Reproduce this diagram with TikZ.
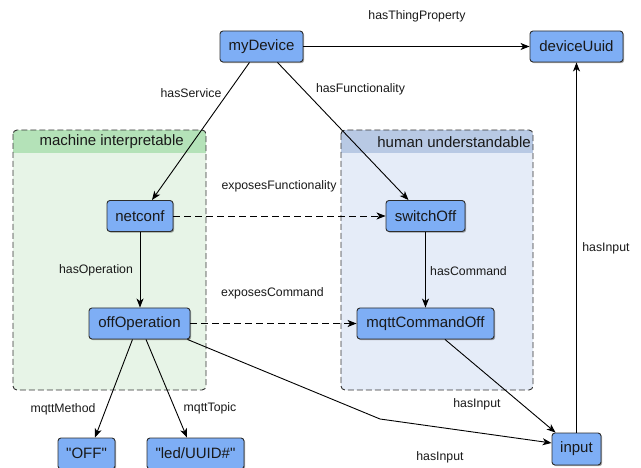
\documentclass[tikz,border=0pt]{standalone}
\usepackage{fontspec}
\setmainfont{Liberation Sans}
\newfontfamily\plainsans{Liberation Sans}
\usetikzlibrary{arrows.meta,shadows}
\definecolor{nodefill}{RGB}{126,174,245}
\definecolor{nodeborder}{RGB}{45,45,45}
\definecolor{greenhead}{RGB}{180,226,184}
\definecolor{greenbody}{RGB}{231,244,231}
\definecolor{bluehead}{RGB}{184,201,228}
\definecolor{bluebody}{RGB}{229,236,248}
\begin{document}
\begin{tikzpicture}[x=1pt,y=-1pt,
 entity/.style={draw=nodeborder, fill=nodefill, rounded corners=3pt, line width=0.9pt, minimum height=31pt, inner sep=0pt, font=\plainsans\fontsize{15}{18}\selectfont, text=black!90, drop shadow={shadow xshift=1.2pt, shadow yshift=-1.2pt, opacity=0.35, fill=black}},
 elabel/.style={font=\fontsize{12.3}{14}\selectfont, inner sep=0pt, text=black!90},
 rel/.style={draw=black, line width=0.9pt, -{Stealth[length=9pt,width=7pt,inset=2.5pt]}},
 expose/.style={rel, dash pattern=on 7pt off 4pt},
 groupbox/.style={draw=black!80, dash pattern=on 6pt off 3pt, line width=0.9pt, rounded corners=4pt},
 headtext/.style={font=\fontsize{15}{18}\selectfont, inner sep=0pt, anchor=east, text=black!90}
]
\useasboundingbox (0,0) rectangle (641,468);

% containers
\fill[greenbody, rounded corners=4pt] (13,130) rectangle (206,390);
\begin{scope}
\clip[rounded corners=4pt] (13,130) rectangle (206,390);
\fill[greenhead] (13,130) rectangle (206,153);
\end{scope}
\draw[groupbox] (13,130) rectangle (206,390);
\node[headtext] (mihead) at (184,142) {machine interpretable};

\fill[bluebody, rounded corners=4pt] (341,130) rectangle (533,390);
\begin{scope}
\clip[rounded corners=4pt] (341,130) rectangle (533,390);
\fill[bluehead] (341,130) rectangle (533,153);
\end{scope}
\draw[groupbox] (341,130) rectangle (533,390);
\node[headtext] (huhead) at (531,142) {human understandable};

% nodes
\node[entity, minimum width=83pt] (myDevice) at (261.5,46.5) {myDevice};
\node[entity, minimum width=93pt] (deviceUuid) at (576.5,46.5) {deviceUuid};
\node[entity, minimum width=66pt] (netconf) at (140,216) {netconf};
\node[entity, minimum width=101pt] (offOperation) at (139.5,323.5) {offOperation};
\node[entity, minimum width=79pt] (switchOff) at (425.5,216) {switchOff};
\node[entity, minimum width=137pt] (mqttCommandOff) at (425.5,323.5) {mqttCommandOff};
\node[entity, minimum width=49pt, minimum height=32pt] (input) at (576.5,449) {input};
\node[entity, minimum width=57pt] (off) at (86.5,453.5) {"OFF"};
\node[entity, minimum width=97pt] (led) at (195.5,453.5) {"led/UUID\#"};

% edges
\draw[rel] (myDevice) -- (deviceUuid);
\draw[rel] ([xshift=-12pt]myDevice.south) -- ([xshift=12pt]netconf.north);
\draw[rel] ([xshift=16pt]myDevice.south) -- ([xshift=-17pt]switchOff.north);
\draw[expose] (netconf) -- (switchOff);
\draw[rel] (netconf.south) -- (netconf.south |- offOperation.north);
\draw[rel] (switchOff) -- (mqttCommandOff);
\draw[expose] (offOperation) -- (mqttCommandOff);
\draw[rel] ([xshift=-7pt]offOperation.south) -- ([xshift=8.5pt]off.north);
\draw[rel] ([xshift=6.5pt]offOperation.south) -- ([xshift=-8.5pt]led.north);
\draw[rel] ([xshift=19.5pt]mqttCommandOff.south) -- ([xshift=4pt]input.north west);
\coordinate (bend) at (380,419);
\draw[rel] ([xshift=-3pt]offOperation.south east) -- (bend) -- ([yshift=6pt]input.west);
\draw[rel] (input) -- (deviceUuid);

% labels
\node[elabel] (l1) at (417,16) {hasThingProperty};
\node[elabel] (l2) at (191,93) {hasService};
\node[elabel] (l3) at (360.5,89) {hasFunctionality};
\node[elabel] (l4) at (279,186) {exposesFunctionality};
\node[elabel] (l5) at (96,270) {hasOperation};
\node[elabel] (l6) at (468.5,271) {hasCommand};
\node[elabel] (l7) at (272.5,293) {exposesCommand};
\node[elabel] (l8) at (63,409) {mqttMethod};
\node[elabel] (l9) at (210,408) {mqttTopic};
\node[elabel] (l10) at (477,404) {hasInput};
\node[elabel] (l11) at (440,457) {hasInput};
\node[elabel] (l12) at (606,248) {hasInput};
\end{tikzpicture}
\end{document}
